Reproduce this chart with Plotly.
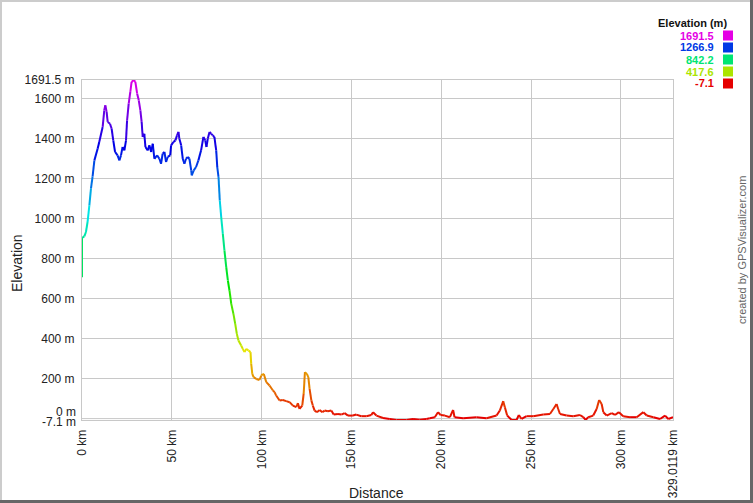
import colorsys
import plotly.graph_objects as go

# elevation profile
dist_km = [0.0, 0.0, 1.3, 2.2, 3.1, 4.1, 5.0, 5.9, 6.9, 8.7, 9.6, 11.5, 12.4, 13.0, 13.7,
           14.3, 15.6, 16.5, 17.4, 18.4, 19.8, 20.8, 21.7, 22.6, 23.6, 24.5, 25.1, 26.0,
           26.9, 27.6, 28.8, 29.7, 30.7, 31.6, 32.5, 33.2, 33.8, 34.7, 35.3, 36.6, 37.5,
           38.5, 39.4, 40.3, 41.8, 43.1, 44.0, 44.9, 45.9, 46.8, 47.7, 49.1, 49.6, 50.9,
           52.0, 52.9, 53.7, 54.2, 55.2, 56.1, 57.0, 57.9, 58.9, 59.8, 60.8, 61.1, 62.2,
           63.5, 64.8, 66.3, 67.6, 68.6, 69.3, 70.0, 71.0, 71.9, 72.8, 73.7, 74.7, 75.3,
           76.0, 76.7, 77.5, 78.4, 79.3, 80.3, 81.2, 82.1, 83.1, 84.3, 85.3, 86.2, 87.1,
           88.6, 89.5, 90.5, 91.4, 92.7, 93.8, 94.2, 94.8, 95.5, 97.0, 98.8, 99.8, 100.7,
           101.2, 102.6, 104.4, 106.3, 107.2, 108.1, 110.0, 111.8, 113.7, 115.6, 117.4,
           119.3, 120.2, 121.1, 122.6, 123.4, 124.1, 125.2, 126.0, 126.7, 127.7, 128.5,
           129.5, 130.8, 132.3, 133.8, 135.1, 136.9, 138.8, 140.1, 142.5, 144.4, 146.2,
           148.1, 150.8, 152.7, 155.5, 158.3, 161.1, 162.0, 163.9, 167.6, 171.3, 175.0,
           180.6, 184.3, 188.0, 191.7, 193.6, 196.4, 198.2, 199.6, 202.0, 204.8, 206.6,
           207.4, 212.2, 219.6, 225.2, 230.8, 232.6, 234.5, 235.4, 236.7, 239.2, 241.9,
           243.2, 244.7, 247.5, 251.2, 256.8, 260.5, 262.4, 264.2, 265.1, 266.1, 269.8,
           273.5, 277.2, 279.1, 280.4, 281.8, 284.6, 286.5, 287.9, 289.3, 290.2, 292.1,
           294.9, 296.7, 298.9, 301.3, 305.1, 308.8, 312.5, 314.4, 318.1, 321.8, 324.6,
           326.4, 329.0119]
elev_m = [706, 903, 910, 932, 982, 1065, 1150, 1210, 1290, 1348, 1382, 1457, 1540, 1565, 1532,
          1482, 1473, 1448, 1390, 1332, 1315, 1290, 1315, 1357, 1340, 1390, 1490, 1573,
          1632, 1682, 1691.5, 1682, 1623, 1590, 1540, 1482, 1407, 1423, 1357, 1340, 1365,
          1332, 1373, 1298, 1315, 1298, 1273, 1323, 1332, 1282, 1307, 1315, 1365, 1382,
          1390, 1415, 1432, 1398, 1365, 1298, 1273, 1298, 1307, 1298, 1240, 1215, 1240,
          1257, 1290, 1340, 1407, 1390, 1357, 1398, 1432, 1423, 1415, 1407, 1340, 1257,
          1207, 1090, 1007, 923, 840, 757, 690, 640, 573, 523, 473, 423, 390,
          365, 348, 332, 348, 340, 332, 273, 223, 207, 198, 193, 215, 223,
          223, 182, 165, 140, 132, 115, 90, 93, 87, 82, 65,
          57, 77, 48, 65, 123, 232, 223, 207, 148, 90, 65,
          40, 32, 43, 32, 40, 37, 40, 20, 23, 20, 27,
          15, 15, 20, 12, 12, 18, 32, 15, 3, -2, -7,
          -7, -2, -6, -2, 2, 7, 32, 18, 15, 7, 43,
          7, 2, 7, 2, 15, 40, 87, 57, 15, -7, -7,
          18, -2, 12, 12, 20, 23, 48, 73, 48, 23, 15,
          12, 18, 7, -7, 7, 15, 48, 93, 73, 32, 15,
          27, 18, 32, 12, 7, 7, 32, 15, 7, -2, 15,
          -2, 7]
legend_vals = [1691.5, 1266.9, 842.2, 417.6, -7.1]
x_ticks = [0, 50, 100, 150, 200, 250, 300, 329.0119]
x_labels = ["0 km", "50 km", "100 km", "150 km", "200 km", "250 km", "300 km", "329.0119 km"]
y_ticks = [200, 400, 600, 800, 1000, 1200, 1400, 1600, 1691.5]
y_labels = ["200 m", "400 m", "600 m", "800 m", "1000 m", "1200 m", "1400 m", "1600 m", "1691.5 m"]

E_MIN, E_MAX = -7.1, 1691.5
FONT = "Liberation Sans, Arial, sans-serif"


def elev_color(v):
    f = min(max((v - E_MIN) / (E_MAX - E_MIN), 0), 1)
    r, g, b = colorsys.hsv_to_rgb(f * 300 / 360, 1, 0.9)
    return "rgb(%d,%d,%d)" % (r * 255, g * 255, b * 255)


# group the segments into colour bins so the line shades with elevation
NBINS = 60
bins = {}
for i in range(len(dist_km) - 1):
    mid = (elev_m[i] + elev_m[i + 1]) / 2
    k = int(round((mid - E_MIN) / (E_MAX - E_MIN) * NBINS))
    xs, ys = bins.setdefault(k, ([], []))
    xs += [dist_km[i], dist_km[i + 1], None]
    ys += [elev_m[i], elev_m[i + 1], None]

fig = go.Figure()
for k, (xs, ys) in sorted(bins.items()):
    col = elev_color(E_MIN + k / NBINS * (E_MAX - E_MIN))
    fig.add_trace(go.Scatter(x=xs, y=ys, mode="lines", line=dict(color=col, width=2),
                             showlegend=False, hoverinfo="skip"))

L, R, T, B = 82, 80, 80, 83
W, H = 753, 503
pw, ph = W - L - R, H - T - B


def px(x):
    return (x - L) / pw


def py(y):
    return (H - B - y) / ph


fig.update_layout(
    width=W, height=H,
    margin=dict(l=L, r=R, t=T, b=B),
    plot_bgcolor="white", paper_bgcolor="white",
    font=dict(family=FONT, size=12, color="#222"),
    xaxis=dict(range=[0, 329.0119], tickvals=x_ticks, ticktext=x_labels,
               tickangle=-90, showgrid=True, gridcolor="#c8c8c8", gridwidth=1,
               zeroline=False, showline=True, linecolor="#c8c8c8", mirror=True,
               ticks="", ticklabelstandoff=4, automargin=False),
    yaxis=dict(range=[E_MIN, E_MAX], tickvals=y_ticks, ticktext=y_labels,
               showgrid=True, gridcolor="#c8c8c8", gridwidth=1,
               zeroline=False, showline=True, linecolor="#c8c8c8", mirror=True,
               ticks="", ticklabelstandoff=4, automargin=False),
)

shapes = [dict(type="line", xref="paper", yref="y", x0=0, x1=1, y0=0, y1=0,
               line=dict(color="#c8c8c8", width=1), layer="below")]
ann = [
    dict(x=0, y=0, xref="paper", yref="y", text="0 m", showarrow=False,
         xanchor="right", xshift=-4, yshift=7, font=dict(size=12)),
    dict(x=0, y=E_MIN, xref="paper", yref="y", text="-7.1 m", showarrow=False,
         xanchor="right", xshift=-4, yshift=-2, font=dict(size=12)),
    dict(x=px(17), y=py(263), xref="paper", yref="paper", text="Elevation",
         showarrow=False, textangle=-90, xanchor="center", yanchor="middle",
         font=dict(size=14, color="#222")),
    dict(x=px(376), y=py(493), xref="paper", yref="paper", text="Distance",
         showarrow=False, xanchor="center", yanchor="middle",
         font=dict(size=14, color="#222")),
    dict(x=px(729), y=py(23), xref="paper", yref="paper", text="<b>Elevation (m)</b>",
         showarrow=False, xanchor="right", yanchor="middle", font=dict(size=11, color="#111")),
    dict(x=px(742), y=py(250), xref="paper", yref="paper", text="created by GPSVisualizer.com",
         showarrow=False, textangle=-90, xanchor="center", yanchor="middle",
         font=dict(size=11, color="#666")),
]
for i, v in enumerate(legend_vals):
    cy = 35.5 + i * 12
    c = elev_color(v)
    ann.append(dict(x=px(716), y=py(cy), xref="paper", yref="paper", text="<b>%s</b>" % v,
                    showarrow=False, xanchor="right", yanchor="middle",
                    font=dict(size=11, color=c)))
    shapes.append(dict(type="rect", xref="paper", yref="paper",
                       x0=px(723), x1=px(733), y0=py(cy - 5), y1=py(cy + 5),
                       fillcolor=c, line=dict(width=0)))

# bevelled frame round the whole picture
shapes += [
    dict(type="line", xref="paper", yref="paper", x0=px(0), x1=px(W), y0=py(1), y1=py(1),
         line=dict(color="#cccccc", width=2)),
    dict(type="line", xref="paper", yref="paper", x0=px(1), x1=px(1), y0=py(0), y1=py(H),
         line=dict(color="#cccccc", width=2)),
    dict(type="line", xref="paper", yref="paper", x0=px(751.5), x1=px(751.5), y0=py(0), y1=py(H),
         line=dict(color="#666666", width=3)),
    dict(type="line", xref="paper", yref="paper", x0=px(0), x1=px(W), y0=py(501.5), y1=py(501.5),
         line=dict(color="#666666", width=3)),
]
fig.update_layout(shapes=shapes, annotations=ann)

# the page's default body margin would push the chart 8px off the corner
fig.write_html("out.html", config={"displayModeBar": False},
               post_script="document.body.style.margin='0';")
